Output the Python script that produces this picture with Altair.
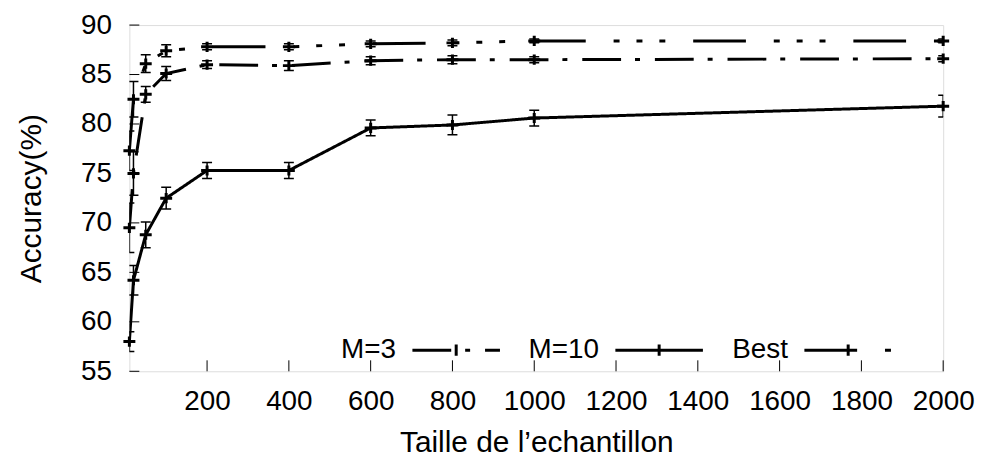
import altair as alt
import pandas as pd

sizes = [10, 20, 50, 100, 200, 400, 600, 800, 1000, 2000]

m3_acc = [69.5, 75.0, 83.0, 85.1, 86.0, 85.9, 86.4, 86.5, 86.5, 86.6]
m3_err = [2.5, 2.2, 0.8, 0.7, 0.4, 0.5, 0.4, 0.4, 0.3, 0.3]

m10_acc = [58.0, 64.2, 68.8, 72.5, 75.3, 75.3, 79.6, 79.9, 80.6, 81.8]
m10_err = [1.0, 1.5, 1.3, 1.1, 0.8, 0.8, 0.8, 1.0, 0.8, 1.1]

best_acc = [77.3, 82.5, 86.1, 87.4, 87.8, 87.8, 88.1, 88.2, 88.4, 88.4]
best_err = [2.0, 1.8, 0.9, 0.6, 0.3, 0.3, 0.3, 0.3, 0.2, 0.2]

series_names = ["M=3", "M=10", "Best"]
x_ticks = [200, 400, 600, 800, 1000, 1200, 1400, 1600, 1800, 2000]
y_ticks = [55, 60, 65, 70, 75, 80, 85, 90]

rows = []
for name, acc, err in zip(series_names, [m3_acc, m10_acc, best_acc], [m3_err, m10_err, best_err]):
    for xv, yv, ev in zip(sizes, acc, err):
        rows.append({"series": name, "x": xv, "y": yv, "lo": yv - ev, "hi": yv + ev})
df = pd.DataFrame(rows)

FONT = "Liberation Sans"
W, H = 818, 348

x_scale = alt.Scale(domain=[10, 2000], nice=False, zero=False)
y_scale = alt.Scale(domain=[55, 90], nice=False, zero=False)

x_axis = alt.Axis(values=x_ticks, format="d", tickSize=0, domain=False, grid=False,
                  labelOverlap=False, labelFlush=False, labelFont=FONT, labelFontSize=28,
                  labelColor="black", labelPadding=16,
                  title="Taille de l\u2019echantillon",
                  titleFont=FONT, titleFontSize=30, titleFontWeight="normal",
                  titleColor="black", titlePadding=13)
y_axis = alt.Axis(values=y_ticks, format="d", tickSize=0, domain=False, grid=False,
                  labelOverlap=False, labelFlush=False, labelFont=FONT, labelFontSize=28,
                  labelColor="black", labelPadding=18, title="Accuracy(%)",
                  titleFont=FONT, titleFontSize=30, titleFontWeight="normal",
                  titleColor="black", titlePadding=34)

dash_scale = alt.Scale(domain=series_names,
                       range=[[39, 14, 5, 15], [1, 0], [53, 28, 6, 17, 6, 17, 6, 28]])

legend_symbol = "M0,-0.13L0,0.13M-1,0L1,0"

base = alt.Chart(df)

lines = base.mark_line(color="black", strokeWidth=3, clip=True).encode(
    x=alt.X("x:Q", scale=x_scale, axis=x_axis),
    y=alt.Y("y:Q", scale=y_scale, axis=y_axis),
    strokeDash=alt.StrokeDash(
        "series:N", scale=dash_scale, sort=series_names,
        legend=alt.Legend(title=None, orient="none", legendX=283, legendY=281,
                          direction="horizontal", symbolType=legend_symbol,
                          symbolSize=7744, symbolStrokeWidth=3,
                          symbolStrokeColor="black", symbolFillColor="transparent",
                          labelFont=FONT, labelFontSize=28, labelColor="black",
                          labelAlign="right", labelOffset={"expr": "-106"},
                          columnPadding=22)),
)

bars = base.mark_rule(color="black", strokeWidth=1.5, clip=True).encode(
    x="x:Q", y="lo:Q", y2="hi:Q")
caps_lo = base.mark_tick(color="black", thickness=1.5, size=10,
                         orient="horizontal", clip=True, opacity=1).encode(x="x:Q", y="lo:Q")
caps_hi = base.mark_tick(color="black", thickness=1.5, size=10,
                         orient="horizontal", clip=True, opacity=1).encode(x="x:Q", y="hi:Q")
points = base.mark_point(shape="M-1,0L1,0M0,-0.85L0,0.85", filled=False,
                         strokeWidth=3, size=144, color="black", opacity=1).encode(
    x="x:Q", y="y:Q")

yt = pd.DataFrame({"v": y_ticks})
xt = pd.DataFrame({"v": x_ticks})
ytick_marks = alt.Chart(yt).mark_rule(color="black", strokeWidth=1).encode(
    y="v:Q", x=alt.value(0), x2=alt.value(10))
xtick_marks = alt.Chart(xt).mark_rule(color="black", strokeWidth=1).encode(
    x="v:Q", y=alt.value(H), y2=alt.value(H - 11))

chart = alt.layer(ytick_marks, xtick_marks, bars, caps_lo, caps_hi, lines, points).properties(
    width=W, height=H,
    autosize=alt.AutoSizeParams(type="none"),
    padding={"left": 122, "top": 16, "right": 36, "bottom": 84},
).configure_view(stroke="black", strokeWidth=2).configure(background="white")

chart.save("out.html", embed_options={"renderer": "svg", "actions": False})
